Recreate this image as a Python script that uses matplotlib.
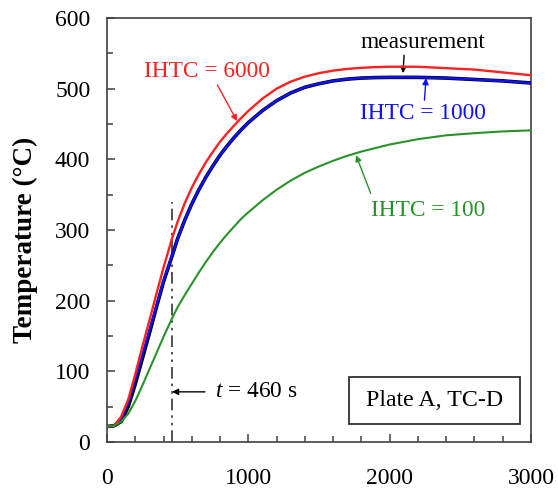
import matplotlib.pyplot as plt
from matplotlib.patches import Rectangle
from matplotlib.ticker import MultipleLocator

# time (s) and temperatures (degC)
t = [0, 50, 100, 150, 200, 250, 300, 350, 400, 460, 500, 550, 600, 650, 700,
     750, 800, 850, 900, 950, 1000, 1100, 1200, 1300, 1400, 1500, 1600, 1700,
     1800, 1900, 2000, 2200, 2400, 2600, 2800, 3000]
ihtc_6000 = [22, 23, 36, 60, 96, 135, 172, 210, 247, 288, 312, 338, 360, 379, 396,
             411, 425, 437, 448, 458.5, 468.5, 486, 500, 510, 517, 522, 525.5, 528,
             529.5, 530.5, 531, 531, 529, 527, 523, 519]
ihtc_1000 = [22, 23, 32, 55, 88, 123, 158, 193, 228, 264, 288, 314, 337, 357, 375,
             391, 406, 419, 431, 442, 452, 469, 483, 494, 502, 507, 511, 513.5,
             515, 515.7, 516, 516, 515, 513, 511, 508]
measured = [22, 23, 29, 50, 82, 118, 154, 191, 227, 263, 288, 314, 337, 357, 375,
            391, 406, 419, 431, 442, 452, 469, 483, 494, 502, 507, 511, 513.5,
            515, 515.7, 516, 516, 515, 513, 511, 508]
ihtc_100 = [22, 23, 29, 40, 58, 80, 103, 126, 149, 175, 191, 208, 224, 240, 255,
            269, 282, 294, 305, 316, 325, 342, 357, 370, 381, 390, 398, 405,
            411, 416, 421, 428.5, 434, 437, 439.5, 441]

t_mark = 460

plt.rcParams['font.family'] = ['Liberation Serif', 'DejaVu Serif']
plt.rcParams['mathtext.fontset'] = 'custom'
plt.rcParams['mathtext.it'] = 'Liberation Serif:italic'
plt.rcParams['mathtext.rm'] = 'Liberation Serif'

fig = plt.figure(figsize=(5.58, 4.93), dpi=100)
ax = fig.add_axes([0.1918, 0.1034, 0.7598, 0.8601])

ax.plot(t, measured, color='black', lw=2.6, zorder=3)
ax.plot(t, ihtc_1000, color='#1010ff', lw=1.7, zorder=4)
ax.plot(t, ihtc_6000, color='#ff2020', lw=1.7, zorder=4)
ax.plot(t, ihtc_100, color='#2a922a', lw=1.5, zorder=4)

ax.plot([t_mark, t_mark], [0, 340], color='#333333', lw=1.2,
        linestyle=(0, (7, 3, 1.5, 3, 1.5, 3)), zorder=2)

ax.set_xlim(0, 3000)
ax.set_ylim(0, 600)
ax.xaxis.set_major_locator(MultipleLocator(1000))
ax.xaxis.set_minor_locator(MultipleLocator(200))
ax.yaxis.set_major_locator(MultipleLocator(100))
ax.yaxis.set_minor_locator(MultipleLocator(50))
ax.tick_params(which='both', direction='in', top=False, right=False,
               labelsize=17, color='#404040')
ax.tick_params(which='major', length=6, width=1.1)
ax.tick_params(which='minor', length=4, width=1.1)
ax.tick_params(axis='x', pad=19)
ax.tick_params(axis='y', pad=12)
for s in ax.spines.values():
    s.set_color('#404040')
    s.set_linewidth(1.2)

ax.set_ylabel('Temperature (°C)', fontsize=19.5, fontweight='bold')
ax.yaxis.set_label_coords(-0.163, 0.476)

arw = dict(arrowstyle='-|>', lw=1.0, mutation_scale=9, shrinkA=0, shrinkB=0)
fs = 16.8
ax.annotate('IHTC = 6000', xy=(920, 454), xytext=(708, 524), color='#ff2020',
            fontsize=fs, ha='center', va='center',
            arrowprops=dict(arw, color='#ff2020', relpos=(0.57, 0.0)))
ax.annotate('measurement', xy=(2094, 522), xytext=(2236, 566), color='black',
            fontsize=fs, ha='center', va='center',
            arrowprops=dict(arw, color='black', relpos=(0.35, 0.0)))
ax.annotate('IHTC = 1000', xy=(2257, 515), xytext=(2236, 465), color='#1010ff',
            fontsize=fs, ha='center', va='center',
            arrowprops=dict(arw, color='#1010ff', relpos=(0.51, 1.0)))
ax.annotate('IHTC = 100', xy=(1762, 406), xytext=(2270, 328), color='#2a922a',
            fontsize=fs, ha='center', va='center',
            arrowprops=dict(arw, color='#2a922a', relpos=(0.0, 1.3)))
ax.annotate('', xy=(t_mark, 71), xytext=(693, 71),
            arrowprops=dict(arw, color='black'))
ax.text(764, 71, '$t$ = 460 s', fontsize=fs, ha='left', va='center')

ax.add_patch(Rectangle((0.571, 0.0425), 0.403, 0.111, transform=ax.transAxes,
                       fill=False, ec='#303030', lw=1.3, zorder=5))
ax.text(0.7725, 0.098, 'Plate A, TC-D', transform=ax.transAxes, fontsize=17.2,
        ha='center', va='center')

fig.savefig('out.png', dpi=100)
